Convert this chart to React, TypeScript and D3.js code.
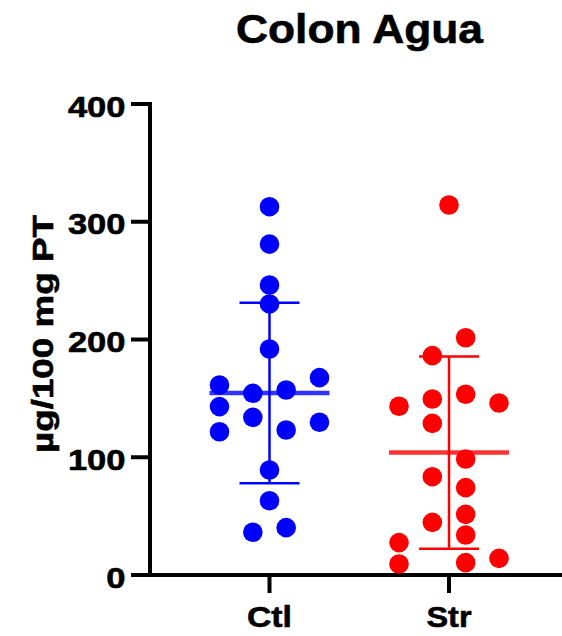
import React from "react";
import * as d3 from "d3";

const title = "Colon Agua";
const yLabel = "µg/100 mg PT";
const categories = ["Ctl", "Str"];
const colors = ["#0000ff", "#ff0000"];
const yTicks = [0, 100, 200, 300, 400];

const ctlValues = [312.8, 281, 246.3, 230.2, 191.9, 161.4, 167.6, 154.3, 157.1, 143, 133.9, 129.7, 121.7, 123.1, 89.2, 63.1, 40.2, 36.3];
const ctlLanes = [0, 0, 0, 0, 0, -3, 3, -1, 1, -3, -1, 3, -3, 1, 0, 0, 1, -1];
const strValues = [314.2, 201.5, 186.3, 149.5, 153.5, 143.3, 146.1, 128.8, 98.5, 83.5, 74.2, 51.5, 44.7, 34, 27.5, 9.3, 10.5, 14.1];
const strLanes = [0, 1, -1, -1, 1, -3, 3, -1, 1, -1, 1, 1, -1, 1, -3, -3, 1, 3];

const groups = [
  { name: categories[0], values: ctlValues, lanes: ctlLanes, color: colors[0] },
  { name: categories[1], values: strValues, lanes: strLanes, color: colors[1] },
];

const W = 562;
const H = 636;
const FONT = "'Liberation Sans', Arial, Helvetica, sans-serif";

export default function App() {
  const y = d3.scaleLinear().domain([0, 400]).range([575, 104]);
  const x = d3.scalePoint<string>().domain(categories).range([269.5, 449]);
  const lane = d3.scaleLinear().domain([-3, 3]).range([-50, 50]);
  const axisX = 150;
  const axisY = y(0);

  return (
    <svg width={W} height={H} style={{ position: "absolute", left: 0, top: 0, background: "#fff" }}>
      {/* Title */}
      <text x={359.5} y={43} textAnchor="middle" fontFamily={FONT} fontWeight="bold" fontSize={40}
        stroke="#000" strokeWidth={0.6}
        textLength={247} lengthAdjust="spacingAndGlyphs">{title}</text>

      {/* Y label */}
      <text transform={`translate(53,334) rotate(-90)`} textAnchor="middle" fontFamily={FONT} fontWeight="bold"
        fontSize={30} stroke="#000" strokeWidth={0.6} textLength={238} lengthAdjust="spacingAndGlyphs">{yLabel}</text>

      {/* Y axis */}
      <line x1={axisX} x2={axisX} y1={y(400) - 2} y2={axisY + 2} stroke="#000" strokeWidth={4} />
      {yTicks.map((t) => (
        <g key={t}>
          <line x1={axisX - 19} x2={axisX} y1={y(t)} y2={y(t)} stroke="#000" strokeWidth={4} />
          <text x={125.5} y={y(t) + 12.5} textAnchor="end" fontFamily={FONT} fontWeight="bold" fontSize={30}
            stroke="#000" strokeWidth={0.6}
            textLength={String(t).length * 19.2} lengthAdjust="spacingAndGlyphs">{t}</text>
        </g>
      ))}

      {/* X axis */}
      <line x1={axisX - 2} x2={W} y1={axisY} y2={axisY} stroke="#000" strokeWidth={4} />
      {categories.map((c) => (
        <g key={c}>
          <line x1={x(c)} x2={x(c)} y1={axisY} y2={axisY + 18} stroke="#000" strokeWidth={4} />
          <text x={x(c)} y={626.5} textAnchor="middle" fontFamily={FONT} fontWeight="bold" fontSize={30}
            stroke="#000" strokeWidth={0.6}
            textLength={45} lengthAdjust="spacingAndGlyphs">{c}</text>
        </g>
      ))}

      {/* Points */}
      {groups.map((g) => {
        const cx = x(g.name) as number;
        return (
          <g key={g.name}>
            {g.values.map((v, i) => (
              <circle key={i} cx={cx + lane(g.lanes[i])} cy={y(v)} r={9.8} fill={g.color} />
            ))}
          </g>
        );
      })}

      {/* Mean and SD */}
      {groups.map((g) => {
        const cx = x(g.name) as number;
        const m = d3.mean(g.values) as number;
        const sd = d3.deviation(g.values) as number;
        return (
          <g key={g.name + "-stats"}>
            <line x1={cx} x2={cx} y1={y(m + sd)} y2={y(m - sd)} stroke={g.color} strokeWidth={2.5} />
            <line x1={cx - 30} x2={cx + 30} y1={y(m + sd)} y2={y(m + sd)} stroke={g.color} strokeWidth={2.5} />
            <line x1={cx - 30} x2={cx + 30} y1={y(m - sd)} y2={y(m - sd)} stroke={g.color} strokeWidth={2.5} />
            <line x1={cx - 60} x2={cx + 60} y1={y(m)} y2={y(m)} stroke={g.color} strokeWidth={4.5} strokeOpacity={0.8} />
          </g>
        );
      })}
    </svg>
  );
}
